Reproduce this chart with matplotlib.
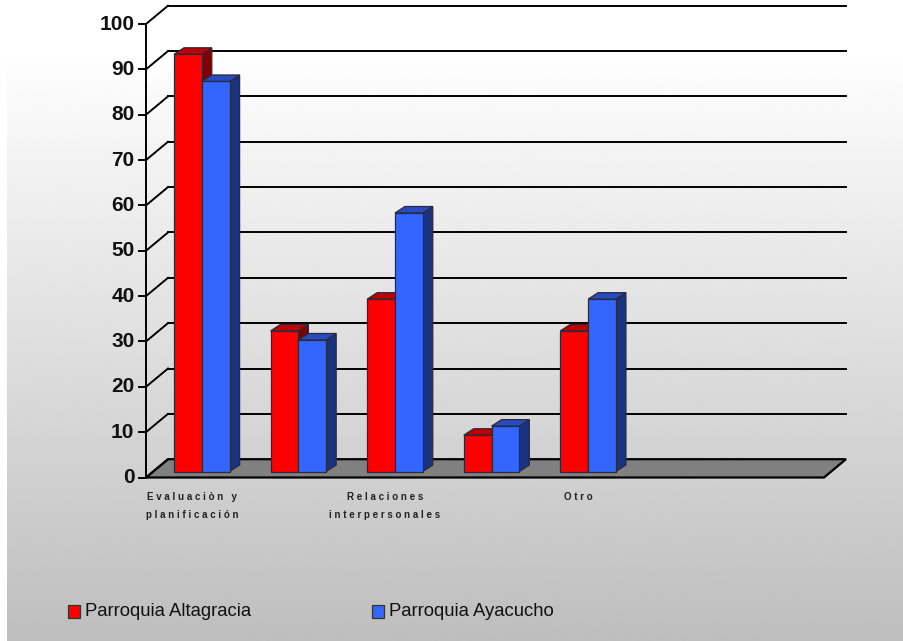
import numpy as np
import matplotlib
matplotlib.use('Agg')
import matplotlib.pyplot as plt
from matplotlib.patches import Polygon, Rectangle

plt.rcParams['font.family'] = ['Liberation Sans', 'DejaVu Sans']

categories = ['Evaluaciòn y\nplanificación', '', 'Relaciones\ninterpersonales', '', 'Otro', '', '']
altagracia = [92, 31, 38, 8, 31]
ayacucho = [86, 29, 57, 10, 38]
y_ticks = list(range(0, 101, 10))
legend_names = ['Parroquia Altagracia', 'Parroquia Ayacucho']

W, H = 904, 641
RED = ('#ff0000', '#bf0000', '#800000')
BLUE = ('#3366ff', '#264cbf', '#1a3380')

fig = plt.figure(figsize=(W / 100, H / 100), dpi=100, facecolor='white')

# background gradient, starts a little below the top of the page
bg = fig.add_axes([7 / W, 0, 1 - 7 / W, 1 - 48 / H])
bg.imshow(np.linspace(1.0, 0.745, 256).reshape(-1, 1), cmap='gray', vmin=0, vmax=1, aspect='auto')
bg.axis('off')

# front plane of the chart: x in categories, y in percent
left, right, bottom, top = 146, 824, 477.5, 24
n = len(categories)
xmax = n + 0.02
ax = fig.add_axes([left / W, 1 - bottom / H, (right - left) / W, (bottom - top) / H])
ax.patch.set_alpha(0)
ax.set_xlim(0, xmax)
ax.set_ylim(0, 100)
ax.axis('off')

# pixel sizes turned into data units
ux = xmax / (right - left)
uy = 100 / (bottom - top)
dx, dy = 22 * ux, 18.3 * uy

# floor
ax.add_patch(Polygon([(0, 0), (xmax, 0), (xmax + dx, dy), (dx, dy)], closed=True, fc='#808080',
                     ec='black', lw=1.6, clip_on=False, zorder=1))

# grid on the wall and the side
for v in y_ticks:
    if v > 0:
        ax.plot([dx, xmax + dx], [v + dy, v + dy], color='black', lw=1.4, clip_on=False, zorder=1)
    ax.plot([0, dx], [v, v + dy], color='black', lw=1.4, clip_on=False, zorder=1)
    ax.plot([-7 * ux, 0], [v, v], color='black', lw=1.4, clip_on=False, zorder=1)
    ax.text(-11.5 * ux, v, str(v), ha='right', va='center', fontsize=15, fontweight='bold',
            color='#111111', clip_on=False)
ax.plot([0, 0], [0, 100], color='black', lw=1.4, clip_on=False, zorder=1)


def bar3d(x0, w, v, cols, z):
    # bars sit a bit back from the front plane
    ox, oy = 7 * ux, 6 * uy
    sx, sy = 10 * ux, 6.5 * uy
    x0 += ox
    x1 = x0 + w
    edge = dict(ec='#2a2a3a', lw=0.9, clip_on=False, zorder=z)
    ax.add_patch(Polygon([(x1, oy), (x1 + sx, oy + sy), (x1 + sx, oy + v + sy), (x1, oy + v)],
                         closed=True, fc=cols[2], **edge))
    ax.add_patch(Polygon([(x0, oy + v), (x1, oy + v), (x1 + sx, oy + v + sy), (x0 + sx, oy + v + sy)],
                         closed=True, fc=cols[1], **edge))
    ax.add_patch(Polygon([(x0, oy), (x1, oy), (x1, oy + v), (x0, oy + v)],
                         closed=True, fc=cols[0], **edge))


bw = 27.8 * ux
start = 21 * ux
for i in range(len(altagracia)):
    bar3d(i + start, bw, altagracia[i], RED, 3 + i)
    bar3d(i + start + bw, bw, ayacucho[i], BLUE, 3.5 + i)

# category labels have wide letter spacing in the original
for i, c in enumerate(categories):
    if c:
        spaced = '\n'.join(' '.join(part) for part in c.split('\n'))
        ax.text(i + 0.5 - 0.025, -3.3, spaced, ha='center', va='top', fontsize=7, fontweight='bold',
                color='#222222', linespacing=2.0, clip_on=False)

# legend
for name, col, px, tx in zip(legend_names, [RED[0], BLUE[0]], [68, 372], [85, 389]):
    fig.add_artist(Rectangle((px / W, 1 - 618 / H), 12 / W, 13 / H, fc=col, ec='#333333', lw=0.9,
                             transform=fig.transFigure))
    fig.text(tx / W, 1 - 612 / H, name, ha='left', va='center', fontsize=13.3, color='#111111')

fig.savefig('out.png', dpi=100)
